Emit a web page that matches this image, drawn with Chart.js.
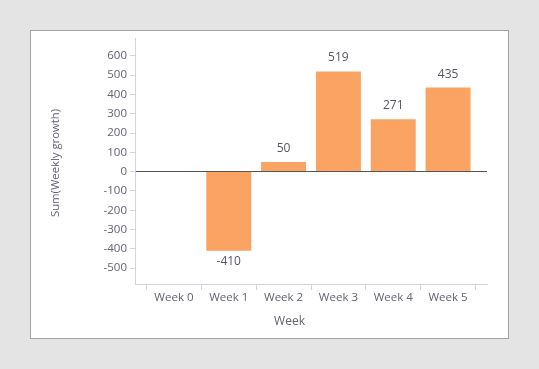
<!DOCTYPE html>
<html>
<head>
<meta charset="utf-8">
<script src="https://cdn.jsdelivr.net/npm/chart.js@4.4.0/dist/chart.umd.min.js"></script>
<style>
  body { margin: 0; background: #e4e4e4; }
  #panel { position: absolute; left: 30px; top: 30px; width: 477px; height: 307px;
           border: 1px solid #a3a3a3; background: #fff; }
  #growthChart { display: block; }
</style>
</head>
<body>
<div id="panel"><canvas id="growthChart" width="477" height="307"></canvas></div>
<script>
// data
var weeks = ["Week 0", "Week 1", "Week 2", "Week 3", "Week 4", "Week 5"];
var growth = [null, -410, 50, 519, 271, 435];
var yTicks = [-500, -400, -300, -200, -100, 0, 100, 200, 300, 400, 500, 600];
var xTitle = "Week";
var yTitle = "Sum(Weekly growth)";

var textFont = "'Open Sans', 'Noto Sans', sans-serif";
var textColor = "#626270";
var axisColor = "#d2d2e0";

var points = weeks.map(function (w, i) {
  return { x: i, y: growth[i] };
});

// value labels + axis titles
var labelsPlugin = {
  id: "labels",
  afterDatasetsDraw: function (chart) {
    var ctx = chart.ctx;
    var meta = chart.getDatasetMeta(0);
    ctx.save();
    ctx.font = "12px " + textFont;
    ctx.fillStyle = "#555560";
    ctx.textAlign = "center";
    ctx.textBaseline = "middle";
    meta.data.forEach(function (bar, i) {
      var v = growth[i];
      if (v === null) return;
      var y = v >= 0 ? bar.y - 13.5 : bar.y + 10.5;
      ctx.fillText(String(v), bar.x, y);
    });
    ctx.restore();
  },
  afterDraw: function (chart) {
    var ctx = chart.ctx;
    var area = chart.chartArea;
    ctx.save();
    ctx.font = "12px " + textFont;
    ctx.fillStyle = textColor;
    ctx.textAlign = "center";
    ctx.textBaseline = "middle";
    ctx.fillText(xTitle, area.left + 154.5, area.bottom + 38);
    ctx.font = "11.3px " + textFont;
    ctx.translate(24.5, (area.top + area.bottom) / 2 + 2);
    ctx.rotate(-Math.PI / 2);
    ctx.fillText(yTitle, 0, 0);
    ctx.restore();
  }
};

var growthChart = new Chart(document.getElementById("growthChart"), {
  type: "bar",
  data: {
    datasets: [{
      data: points,
      backgroundColor: "#faa362",
      borderWidth: 0,
      categoryPercentage: 1,
      barPercentage: 0.82
    }]
  },
  plugins: [labelsPlugin],
  options: {
    responsive: false,
    animation: false,
    layout: { padding: { top: 7, right: 21, left: 0, bottom: 0 } },
    plugins: {
      legend: { display: false },
      tooltip: { enabled: false }
    },
    scales: {
      x: {
        type: "linear",
        min: -0.71,
        max: 5.71,
        offset: false,
        afterBuildTicks: function (scale) {
          scale.ticks = weeks.map(function (w, i) { return { value: i }; });
        },
        afterFit: function (scale) {
          scale.height = 54;
          scale.paddingLeft = 0;
          scale.paddingRight = 0;
        },
        ticks: {
          autoSkip: false,
          maxRotation: 0,
          padding: 1,
          color: textColor,
          font: { family: textFont, size: 11.5 },
          callback: function (value) { return weeks[value]; }
        },
        grid: {
          offset: true,
          drawOnChartArea: false,
          tickLength: 6,
          tickColor: axisColor
        },
        border: { color: axisColor }
      },
      y: {
        min: -582,
        max: 692,
        afterBuildTicks: function (scale) {
          scale.ticks = yTicks.map(function (v) { return { value: v }; });
        },
        afterFit: function (scale) {
          scale.width = 104;
          scale.paddingTop = 0;
          scale.paddingBottom = 0;
        },
        ticks: {
          padding: 3,
          color: textColor,
          font: { family: textFont, size: 11.5 }
        },
        grid: {
          color: function (c) { return c.tick && c.tick.value === 0 ? "#555" : "rgba(0,0,0,0)"; },
          tickColor: axisColor,
          tickLength: 5
        },
        border: { color: axisColor }
      }
    }
  }
});
</script>
</body>
</html>
